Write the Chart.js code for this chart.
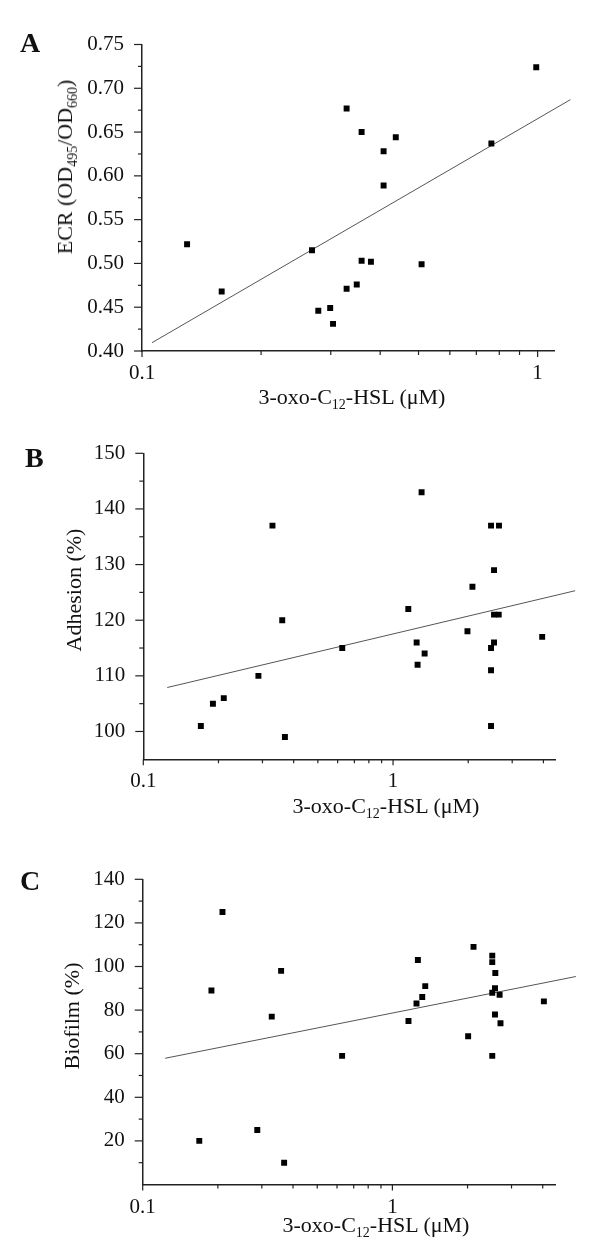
<!DOCTYPE html>
<html><head><meta charset="utf-8">
<script src="https://cdn.jsdelivr.net/npm/chart.js@4.4.1/dist/chart.umd.min.js"></script>
<style>
body{margin:0;background:#fff;}
#wrap{position:relative;width:600px;height:1253px;overflow:hidden;font-family:"Liberation Serif","Times New Roman",serif;color:#111;}
canvas{position:absolute;left:0;}
.t{position:absolute;font-size:22px;line-height:22px;white-space:nowrap;}
.t sub{font-size:14px;vertical-align:-5px;line-height:0;}
.xt{transform:translateX(-50%);}
.yt{transform:translate(-50%,-50%) rotate(-90deg);}
.lt{position:absolute;font-size:28px;font-weight:bold;line-height:28px;}
</style></head>
<body>
<div id="wrap">
<canvas id="cA" width="600" height="420" style="top:0px"></canvas>
<canvas id="cB" width="600" height="400" style="top:420px"></canvas>
<canvas id="cC" width="600" height="433" style="top:820px"></canvas>

<div class="lt" style="left:20px;top:29px">A</div>
<div class="lt" style="left:25px;top:444px">B</div>
<div class="lt" style="left:20px;top:867px">C</div>

<div class="t yt" style="left:65px;top:167px">ECR (OD<sub>495</sub>/OD<sub>660</sub>)</div>
<div class="t xt" style="left:352px;top:386px">3-oxo-C<sub>12</sub>-HSL (μM)</div>

<div class="t yt" style="left:74px;top:590px">Adhesion (%)</div>
<div class="t xt" style="left:386px;top:795px">3-oxo-C<sub>12</sub>-HSL (μM)</div>

<div class="t yt" style="left:72px;top:1016px">Biofilm (%)</div>
<div class="t xt" style="left:376px;top:1214px">3-oxo-C<sub>12</sub>-HSL (μM)</div>
</div>
<script>
// ---------- Panel A : ECR vs 3-oxo-C12-HSL ----------
const aX = [0.130,0.159,0.269,0.279,0.299,0.304,0.329,0.329,0.349,0.359,0.359,0.379,0.408,0.408,0.438,0.509,0.764,0.992];
const aY = [0.522,0.468,0.515,0.446,0.449,0.431,0.677,0.471,0.476,0.650,0.503,0.502,0.628,0.589,0.644,0.499,0.637,0.724];
const aFitX = [0.106, 1.21];
const aFitY = [0.4095, 0.687];
const aYMajor = [0.40,0.45,0.50,0.55,0.60,0.65,0.70,0.75];

// ---------- Panel B : Adhesion ----------
const bX = [0.170,0.190,0.210,0.289,0.329,0.360,0.369,0.626,1.151,1.243,1.254,1.301,1.338,1.986,2.079,2.468,2.656,2.537,2.537,2.649,2.537,2.468,2.468,2.468,3.955];
const bY = [101,105,106,110,137,120,99,115,122,116,112,143,114,118,126,137,137,129,121,121,116,115,111,101,117];
const bFitX = [0.1247, 5.36];
const bFitY = [107.9, 125.3];
const bYMajor = [100,110,120,130,140,150];

// ---------- Panel C : Biofilm ----------
const cX = [0.1685,0.1885,0.2087,0.2877,0.3287,0.3584,0.3685,0.629,1.160,1.249,1.265,1.317,1.354,2.011,2.113,2.512,2.512,2.584,2.576,2.512,2.688,2.576,2.710,2.512,4.043];
const cY = [20,89,125,25,77,98,10,59,75,83,103,86,91,68,109,105,102,97,90,88,87,78,74,59,84];
const cFitX = [0.123, 5.43];
const cFitY = [57.9, 95.4];
const cYMajor = [20,40,60,80,100,120,140];

// ---------- shared x-axis ticks ----------
const xMajor = [0.1, 1];
const xLabels = ['0.1', '1'];
const xMinorA = [0.2,0.3,0.4,0.5,0.6,0.7,0.8,0.9];
const xMinorBC = [0.2,0.3,0.4,0.5,0.6,0.7,0.8,0.9,2,3,4];

const FONT = {family:'"Liberation Serif","Times New Roman",serif', size:21};
const near = (a,b) => Math.abs(a-b) < 1e-9;

const tickPlugin = {
  id:'tickMarks',
  afterDraw(chart){
    const ctx = chart.ctx, a = chart.chartArea;
    const xs = chart.scales.x, ys = chart.scales.y;
    ctx.save();
    ctx.strokeStyle = '#222';
    ctx.lineWidth = 1.2;
    xs.ticks.forEach(t => {
      const p = xs.getPixelForValue(t.value), L = t.major ? 6 : 4;
      ctx.beginPath(); ctx.moveTo(p, a.bottom); ctx.lineTo(p, a.bottom + L); ctx.stroke();
    });
    ys.ticks.forEach(t => {
      const p = ys.getPixelForValue(t.value), L = t.major ? 8 : 4;
      ctx.beginPath(); ctx.moveTo(a.left, p); ctx.lineTo(a.left - L, p); ctx.stroke();
    });
    ctx.restore();
  }
};

function makePanel(id, o){
  const pts = o.x.map((x,i) => ({x:x, y:o.y[i]}));
  const fit = o.fx.map((x,i) => ({x:x, y:o.fy[i]}));
  // y ticks: majors plus midpoints as minor ticks
  const yt = [];
  o.yMajor.forEach((v,i) => {
    yt.push({value:v, major:true});
    if (i < o.yMajor.length-1) yt.push({value:(v + o.yMajor[i+1])/2, major:false});
  });
  if (o.yExtraMinor) o.yExtraMinor.forEach(v => yt.push({value:v, major:false}));
  const xt = xMajor.map(v => ({value:v, major:true})).concat(o.xMinor.map(v => ({value:v, major:false})));
  new Chart(document.getElementById(id), {
    type:'scatter',
    data:{datasets:[
      {data:pts, pointStyle:'rect', pointRadius:4.2, pointHoverRadius:4.2,
       backgroundColor:'#000', borderColor:'#000', borderWidth:0},
      {data:fit, showLine:true, borderColor:'#555', borderWidth:1, pointRadius:0, clip:false}
    ]},
    options:{
      responsive:false, animation:false, devicePixelRatio:1,
      layout:{padding:o.pad},
      plugins:{legend:{display:false}, tooltip:{enabled:false}},
      scales:{
        x:{type:'logarithmic', position:'bottom', min:0.1, max:o.xMax,
           grid:{display:false, drawTicks:false, tickLength:0}, border:{display:true, color:'#222', width:1.5},
           afterBuildTicks:s => { s.ticks = xt.slice(); },
           afterFit:s => { s.height = o.xH; },
           ticks:{autoSkip:false, maxRotation:0, minRotation:0, padding:10, color:'#111', font:FONT,
             callback:(v) => { const k = xMajor.findIndex(m => near(m, v)); return k >= 0 ? xLabels[k] : ''; }}
        },
        y:{type:'linear', position:'left', min:o.yMin, max:o.yMax,
           grid:{display:false, drawTicks:false, tickLength:0}, border:{display:true, color:'#222', width:1.5},
           afterBuildTicks:s => { s.ticks = yt.slice(); },
           afterFit:s => { s.width = o.yW; },
           ticks:{autoSkip:false, padding:18, color:'#111', font:FONT,
             callback:(v) => o.yMajor.some(m => near(m, v)) ? o.fmt(v) : ''}
        }
      }
    },
    plugins:[tickPlugin]
  });
}

makePanel('cA', {x:aX, y:aY, fx:aFitX, fy:aFitY, xMax:1.1, xMinor:xMinorA,
  yMin:0.40, yMax:0.75, yMajor:aYMajor, fmt:v => v.toFixed(2),
  yW:142, xH:50, pad:{left:0, right:46, top:44.5, bottom:19}});

makePanel('cB', {x:bX, y:bY, fx:bFitX, fy:bFitY, xMax:4.48, xMinor:xMinorBC,
  yMin:95, yMax:150, yMajor:bYMajor, fmt:v => String(v),
  yW:143.3, xH:45, pad:{left:0, right:44.3, top:33.3, bottom:15.7}});

makePanel('cC', {x:cX, y:cY, fx:cFitX, fy:cFitY, xMax:4.48, xMinor:xMinorBC,
  yMin:0, yMax:140, yMajor:cYMajor, yExtraMinor:[10], fmt:v => String(v),
  yW:142.7, xH:50, pad:{left:0, right:45, top:59.3, bottom:18.5}});
</script>
</body></html>
